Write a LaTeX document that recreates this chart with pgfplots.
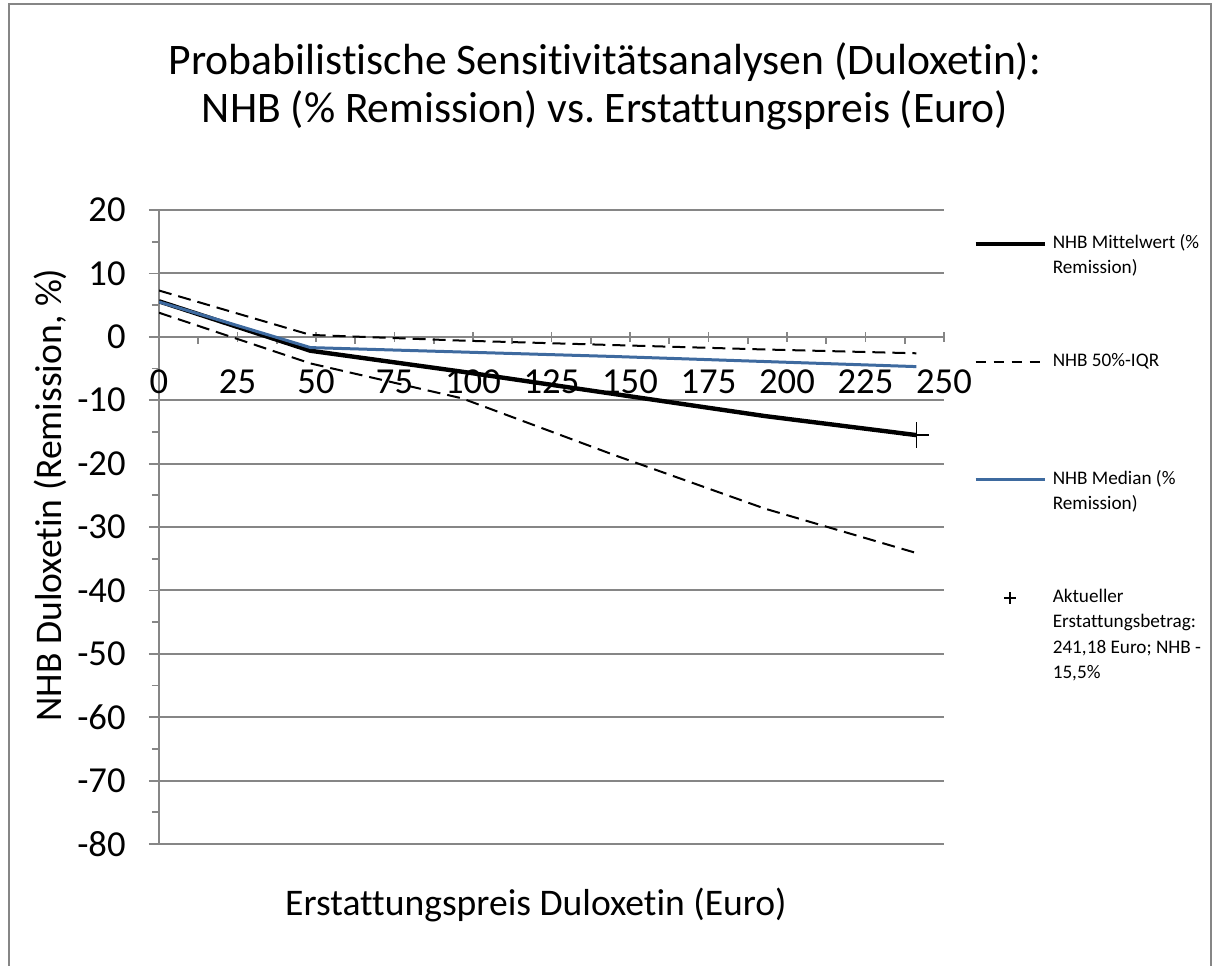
\documentclass[border=0pt]{standalone}
\usepackage{fontspec}
\setmainfont{Carlito}[Ligatures=CommonOff]
\usepackage{pgfplots}
\usepackage{pgfplotstable}
\pgfplotsset{compat=1.18}
\frenchspacing

\definecolor{axgray}{HTML}{868686}
\definecolor{medblue}{HTML}{3E6A9F}

% x = Erstattungspreis (0%,20%,...,100% von 241,18 Euro)
\pgfplotstableread{
x      mw    med   hi    lo
0      5.6   5.5   7.3   3.8
48.24  -2.2  -1.7  0.3   -4.2
96.47  -5.5  -2.4  -0.6  -9.7
144.71 -9.0  -3.1  -1.3  -18.6
192.94 -12.5 -3.9  -2.0  -27.1
241.18 -15.5 -4.7  -2.6  -34.1
}\nhbtable

\pgfplotstableread{
x      y
241.18 -15.5
}\aktuell

% legend text: first line only counts for the row height
\newcommand{\lgd}[1]{\raisebox{0pt}[6pt][0pt]{\parbox[t]{95pt}{\raggedright\strut #1}}}

\begin{document}
\begin{tikzpicture}
\useasboundingbox (0,0) rectangle (607.5pt,-482.5pt);
\draw[axgray, line width=0.9pt] (4.5pt,-2pt) rectangle (605.5pt,-520pt);

\node[align=center, font=\fontsize{21.8}{24}\selectfont] at (302.5pt,-43pt)
  {Probabilistische Sensitivitätsanalysen (Duloxetin):\\NHB (\% Remission) vs. Erstattungspreis (Euro)};
\node[font=\fontsize{18.8}{21}\selectfont] at (268pt,-452.5pt) {Erstattungspreis Duloxetin (Euro)};
\node[rotate=90, font=\fontsize{18.8}{21}\selectfont] at (25pt,-247.5pt) {NHB Duloxetin (Remission, \%)};

\begin{axis}[
  at={(79.5pt,-422pt)}, anchor=south west,
  scale only axis, width=392.5pt, height=317pt,
  xmin=0, xmax=250, ymin=-80, ymax=20,
  axis x line=middle, axis y line=left,
  axis line style={axgray, line width=1.3pt, -},
  xtick={0,25,...,250}, minor x tick num=1,
  ytick={-80,-70,...,20}, minor y tick num=1,
  ymajorgrids, grid style={axgray, line width=1pt},
  xtick align=center, ytick align=outside,
  major tick length=5pt, minor tick length=3.5pt,
  tick style={axgray, line width=0.9pt},
  minor x tick style={yshift=-1.75pt},
  ticklabel style={font=\fontsize{18.3}{20}\selectfont},
  /pgf/number format/assume math mode=true,
  xticklabel style={anchor=north, inner sep=0pt, yshift=-14pt},
  yticklabel style={anchor=east, inner sep=0pt, xshift=-11.5pt},
  hide obscured x ticks=false, hide obscured y ticks=false,
  legend style={at={(1.0369,0.959)}, anchor=north west, draw=none, fill=none,
    inner sep=0pt, row sep=51.5pt, column sep=3pt, nodes={inner sep=0pt},
    font=\fontsize{9.6}{12.75}\selectfont},
  legend cell align=left,
  legend image code/.code={\draw[#1] (0pt,0pt) -- (34.5pt,0pt);},
]
\addplot[black, line width=1pt, dash pattern=on 6.5pt off 3.5pt, no marks, forget plot] table[x=x, y=hi] {\nhbtable};
\addplot[black, line width=1pt, dash pattern=on 6.5pt off 3.5pt, no marks, forget plot] table[x=x, y=lo] {\nhbtable};
\addplot[black, line width=2.2pt, no marks, forget plot] table[x=x, y=mw] {\nhbtable};
\addplot[medblue, line width=1.5pt, no marks, forget plot] table[x=x, y=med] {\nhbtable};
\addplot[black, only marks, mark=+, mark size=6.5pt, line width=0.8pt, forget plot] table[x=x, y=y] {\aktuell};

\addlegendimage{black, line width=2.2pt}
\addlegendentry{\lgd{NHB Mittelwert (\%\\Remission)}}
\addlegendimage{black, line width=1.1pt, dash pattern=on 5pt off 4pt}
\addlegendentry{\lgd{NHB 50\%-IQR}}
\addlegendimage{medblue, line width=1.5pt}
\addlegendentry{\lgd{NHB Median (\%\\Remission)}}
\addlegendimage{legend image code/.code={\path (0pt,0pt) (34.5pt,0pt);
  \draw[black, line width=0.8pt] plot[only marks, mark=+, mark size=2.8pt] coordinates {(17.25pt,0pt)};}}
\addlegendentry{\lgd{Aktueller\\Erstattungsbetrag:\\241,18 Euro; NHB -\\15,5\%}}
\end{axis}
\end{tikzpicture}
\end{document}
